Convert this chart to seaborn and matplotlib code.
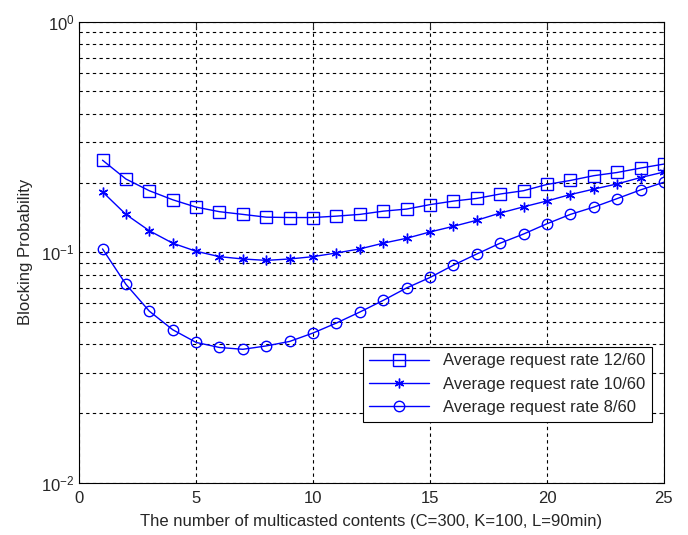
import numpy as np
import pandas as pd
import matplotlib
matplotlib.use("Agg")
import matplotlib.pyplot as plt
import seaborn as sns
from matplotlib.ticker import LogLocator, MultipleLocator, NullFormatter

# Data
contents = list(range(1, 26))
rate_12 = [0.251, 0.208, 0.185, 0.169, 0.157, 0.150, 0.146, 0.142, 0.1415, 0.1415,
           0.1435, 0.146, 0.1508, 0.154, 0.161, 0.1668, 0.1713, 0.179, 0.185, 0.197,
           0.205, 0.215, 0.222, 0.232, 0.2415]
rate_10 = [0.183, 0.146, 0.124, 0.1095, 0.101, 0.0957, 0.0935, 0.0922, 0.0935, 0.0957,
           0.0993, 0.1034, 0.1095, 0.115, 0.1225, 0.1296, 0.1377, 0.148, 0.1575, 0.167,
           0.178, 0.188, 0.198, 0.211, 0.223]
rate_8 = [0.1034, 0.0726, 0.0555, 0.0461, 0.0406, 0.0386, 0.0379, 0.0392, 0.041, 0.0446,
          0.0493, 0.055, 0.0618, 0.070, 0.0777, 0.0879, 0.0983, 0.1095, 0.120, 0.133,
          0.146, 0.157, 0.171, 0.1865, 0.2014]
labels = ["Average request rate 12/60", "Average request rate 10/60", "Average request rate 8/60"]

df = pd.DataFrame({
    "contents": contents * 3,
    "prob": rate_12 + rate_10 + rate_8,
    "series": [labels[0]] * 25 + [labels[1]] * 25 + [labels[2]] * 25,
})

sns.set_style("white")
plt.rcParams["font.family"] = ["Liberation Sans", "DejaVu Sans"]
plt.rcParams["font.size"] = 12

fig = plt.figure(figsize=(6.88, 5.35), dpi=100)
ax = fig.add_axes([0.115, 0.098, 0.85, 0.861])

markers = {labels[0]: "s", labels[1]: (6, 2, 0), labels[2]: "o"}
sizes = {labels[0]: 8, labels[1]: 7, labels[2]: 7.5}
for lab in labels:
    sub = df[df["series"] == lab]
    sns.lineplot(data=sub, x="contents", y="prob", ax=ax, color="blue", lw=1,
                 marker=markers[lab], markersize=sizes[lab], markerfacecolor="none",
                 markeredgecolor="blue", markeredgewidth=1, label=lab)

ax.set_yscale("log")
ax.set_xlim(0, 25)
ax.set_ylim(1e-2, 1e0)
ax.xaxis.set_major_locator(MultipleLocator(5))
ax.yaxis.set_major_locator(LogLocator(base=10, numticks=5))
ax.yaxis.set_minor_locator(LogLocator(base=10, subs=np.arange(2, 10), numticks=20))
ax.yaxis.set_minor_formatter(NullFormatter())

ax.grid(True, which="major", axis="both", color="black", ls=(0, (3, 3)), lw=0.8)
ax.grid(True, which="minor", axis="y", color="black", ls=(0, (3, 3)), lw=0.8)
ax.tick_params(which="both", direction="in", top=True, right=True, labelsize=12)
ax.tick_params(which="major", length=5)
ax.tick_params(which="minor", length=3)
ax.tick_params(axis="x", pad=6)
for s in ax.spines.values():
    s.set_color("black")
    s.set_linewidth(0.8)

ax.set_xlabel("The number of multicasted contents (C=300, K=100, L=90min)", fontsize=12, labelpad=6)
ax.set_ylabel("Blocking Probability", fontsize=12, labelpad=6)

leg = ax.legend(loc="lower right", bbox_to_anchor=(0.979, 0.132), frameon=True, fancybox=False,
                edgecolor="black", fontsize=12, handlelength=3.6, borderpad=0.4,
                labelspacing=0.5, framealpha=1, borderaxespad=0)
leg.get_frame().set_linewidth(0.8)

fig.savefig("out.png", dpi=100)
